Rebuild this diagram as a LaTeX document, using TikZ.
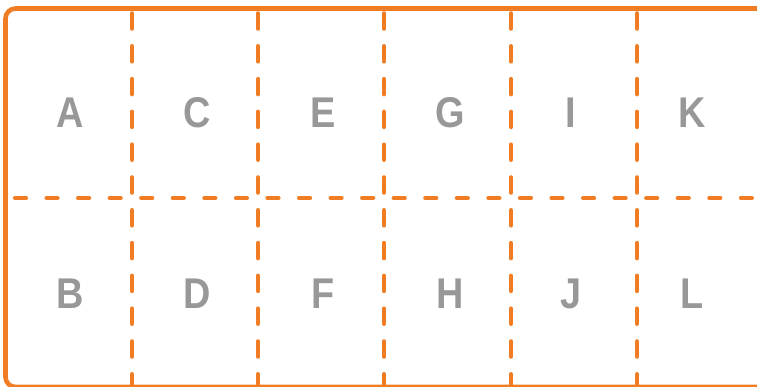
\documentclass[tikz,border=0pt]{standalone}
\usepackage{fontspec}
\setsansfont{Liberation Sans}
\usepackage{tikz}
\usepackage{xcolor}

\definecolor{gridorange}{RGB}{240,125,35}
\definecolor{lettergray}{RGB}{152,152,152}

\begin{document}
\begin{tikzpicture}[x=1pt, y=-1pt, line join=round,
    frame/.style={draw=gridorange, line width=4.6pt, rounded corners=10pt},
    vcut/.style={draw=gridorange, line width=4.6pt, line cap=round,
                 dash pattern=on 15pt off 17.8pt},
    hcut/.style={draw=gridorange, line width=4.2pt, line cap=round,
                 dash pattern=on 11pt off 20.56pt},
    cell/.style={anchor=base, text=lettergray, inner sep=0pt,
                 font=\sffamily\bfseries\fontsize{43}{43}\selectfont}]

    % page is 757 x 387, frame runs off the right and bottom edges
    \useasboundingbox (0,0) rectangle (757,387);
    \clip (0,0) rectangle (757,387);

    % Outer frame
    \draw[frame] (780,8.5) -- (5.5,8.5) -- (5.5,387) -- (780,387);

    % Dashed cuts
    \draw[hcut] (15,198) -- (760,198);
    \foreach \cx in {132, 258, 384, 511, 637}
        \draw[vcut] (\cx,13.5) -- (\cx,390);

    % Letters, top row then bottom row
    \foreach \lx/\tl/\bl in {70/A/B, 197/C/D, 323/E/F, 450/G/H, 571/I/J, 692/K/L}{
        \node[cell, xscale=0.88] (cell-\tl) at (\lx,128) {\tl};
        \node[cell, xscale=0.88] (cell-\bl) at (\lx,308) {\bl};
    }

\end{tikzpicture}
\end{document}
